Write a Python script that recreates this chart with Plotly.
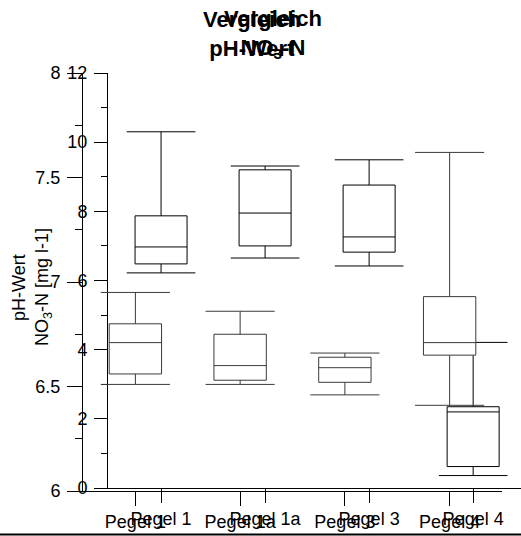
import plotly.graph_objects as go

# Sampling sites
categories = ["Pegel 1", "Pegel 1a", "Pegel 3", "Pegel 4"]

# pH-Wert box statistics per site
ph_max = [6.95, 6.86, 6.66, 7.62]
ph_q3 = [6.80, 6.75, 6.64, 6.93]
ph_median = [6.71, 6.60, 6.59, 6.71]
ph_q1 = [6.56, 6.53, 6.52, 6.65]
ph_min = [6.51, 6.51, 6.46, 6.41]

# NO3-N [mg l-1] box statistics per site
no3_max = [10.30, 9.31, 9.49, 4.21]
no3_q3 = [7.87, 9.20, 8.76, 2.35]
no3_median = [6.97, 7.95, 7.26, 2.20]
no3_q1 = [6.48, 7.00, 6.82, 0.62]
no3_min = [6.22, 6.65, 6.42, 0.36]

ph_ticks = [6, 6.5, 7, 7.5, 8]
ph_minor = [6.25, 6.75, 7.25, 7.75]
no3_ticks = [0, 2, 4, 6, 8, 10, 12]
no3_minor = [1, 3, 5, 7, 9, 11]

W, H = 521, 536
FONT = "Arial, Liberation Sans, sans-serif"
positions = list(range(1, len(categories) + 1))
CAP = 0.33


def fx(p):
    return p / W


def fy(p):
    return 1 - p / H


def caps(lo, hi):
    xs, ys = [], []
    for pos, a, b in zip(positions, lo, hi):
        for v in (a, b):
            xs += [pos - CAP, pos + CAP, None]
            ys += [v, v, None]
    return xs, ys


fig = go.Figure()

# NO3-N chart (drawn underneath)
fig.add_trace(go.Box(
    x=positions, q1=no3_q1, median=no3_median, q3=no3_q3,
    lowerfence=no3_min, upperfence=no3_max,
    width=0.5, whiskerwidth=0, boxpoints=False,
    line=dict(color="black", width=1), fillcolor="white",
    xaxis="x", yaxis="y", hoverinfo="skip", showlegend=False,
))
cx, cy = caps(no3_min, no3_max)
fig.add_trace(go.Scatter(x=cx, y=cy, mode="lines", line=dict(color="black", width=1),
                         xaxis="x", yaxis="y", hoverinfo="skip", showlegend=False))

# pH-Wert chart (drawn on top)
PH_COL = "#3a3a3a"
fig.add_trace(go.Box(
    x=positions, q1=ph_q1, median=ph_median, q3=ph_q3,
    lowerfence=ph_min, upperfence=ph_max,
    width=0.5, whiskerwidth=0, boxpoints=False,
    line=dict(color=PH_COL, width=1), fillcolor="white",
    xaxis="x2", yaxis="y2", hoverinfo="skip", showlegend=False,
))
cx, cy = caps(ph_min, ph_max)
fig.add_trace(go.Scatter(x=cx, y=cy, mode="lines", line=dict(color=PH_COL, width=1),
                         xaxis="x2", yaxis="y2", hoverinfo="skip", showlegend=False))

common = dict(showgrid=False, zeroline=False, showline=True, linecolor="black",
              linewidth=1, ticks="outside", tickcolor="black", tickwidth=1,
              automargin=False,
              tickfont=dict(family=FONT, size=18, color="black"))

fig.update_layout(
    width=W, height=H,
    margin=dict(l=0, r=0, t=0, b=0, pad=0, autoexpand=False),
    paper_bgcolor="white", plot_bgcolor="rgba(0,0,0,0)",
    showlegend=False,
    xaxis=dict(domain=[fx(108), 1.0], range=[0.49, 4.46], anchor="y",
               tickmode="array", tickvals=positions, ticktext=categories,
               ticklen=14, **common),
    yaxis=dict(domain=[fy(488), fy(73)], range=[0, 12], anchor="x",
               tickmode="array", tickvals=no3_ticks, ticklen=13,
               ticklabelstandoff=3,
               minor=dict(tickmode="array", tickvals=no3_minor, ticks="outside",
                          ticklen=6, tickcolor="black"),
               **common),
    xaxis2=dict(domain=[fx(83), fx(502)], range=[0.5, 4.5], anchor="y2",
                tickmode="array", tickvals=positions, ticktext=categories,
                ticklen=14, **common),
    yaxis2=dict(domain=[fy(491), fy(73)], range=[6, 8], anchor="x2",
                tickmode="array", tickvals=ph_ticks, ticklen=15,
                ticklabelstandoff=3,
                minor=dict(tickmode="array", tickvals=ph_minor, ticks="outside",
                           ticklen=7, tickcolor="black"),
                **common),
)

# Titles of both charts
fig.add_annotation(text="<b>Vergleich<br>pH-Wert</b>", xref="paper", yref="paper",
                   x=fx(252), y=fy(34), xanchor="center", yanchor="middle",
                   showarrow=False, font=dict(family=FONT, size=22, color="black"))
fig.add_annotation(text="<b>Vergleich<br>NO<sub>3</sub>-N</b>", xref="paper", yref="paper",
                   x=fx(273), y=fy(34), xanchor="center", yanchor="middle",
                   showarrow=False, font=dict(family=FONT, size=22, color="black"))

# Y-axis titles
fig.add_annotation(text="pH-Wert", xref="paper", yref="paper",
                   x=fx(19), y=fy(288), xanchor="center", yanchor="middle",
                   textangle=-90, showarrow=False,
                   font=dict(family=FONT, size=18, color="black"))
fig.add_annotation(text="NO<sub>3</sub>-N [mg l-1]", xref="paper", yref="paper",
                   x=fx(43), y=fy(287), xanchor="center", yanchor="middle",
                   textangle=-90, showarrow=False,
                   font=dict(family=FONT, size=18, color="black"))

# Bottom rule
fig.add_shape(type="line", xref="paper", yref="paper", x0=0, x1=1,
              y0=fy(534.5), y1=fy(534.5), line=dict(color="black", width=2))

fig.write_html("out.html")
